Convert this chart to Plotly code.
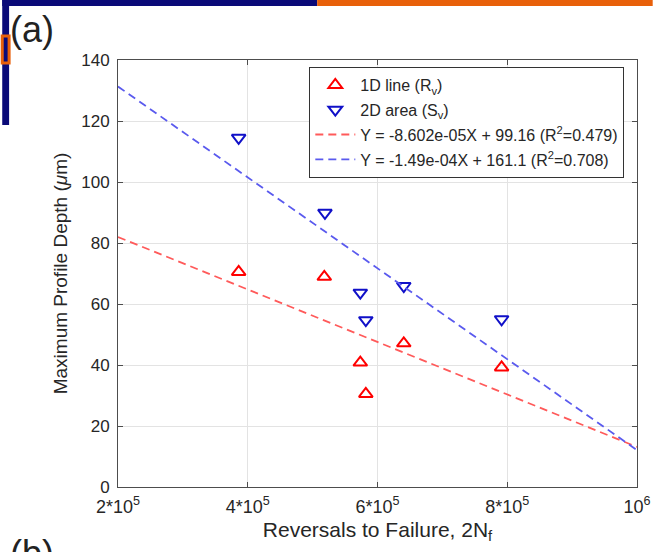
import plotly.graph_objects as go

# ---- data ----
x_1d = [3.86e5, 5.18e5, 5.735e5, 5.82e5, 6.405e5, 7.913e5]
y_1d = [70.5, 68.9, 40.8, 30.5, 47.1, 39.2]

x_2d = [3.86e5, 5.19e5, 5.735e5, 5.82e5, 6.405e5, 7.913e5]
y_2d = [114.5, 89.9, 63.7, 54.7, 65.9, 55.0]

fit_x = [2e5, 1e6]
fit_1d_y = [81.96, 13.14]
fit_2d_y = [131.3, 12.1]

x_ticks = [2e5, 4e5, 6e5, 8e5, 1e6]
x_tick_text = ["2*10<sup>5</sup>", "4*10<sup>5</sup>", "6*10<sup>5</sup>", "8*10<sup>5</sup>", "10<sup>6</sup>"]
y_ticks = [0, 20, 40, 60, 80, 100, 120, 140]

names = ["1D line (R<sub>v</sub>)", "2D area (S<sub>v</sub>)",
         "Y = -8.602e-05X + 99.16 (R<sup>2</sup>=0.479)",
         "Y = -1.49e-04X + 161.1 (R<sup>2</sup>=0.708)"]

# ---- layout geometry (pixels) ----
W, H = 663, 552
L, R, T, B = 118, 647, 60, 487
pw, ph = R - L, B - T

def px(x):
    return (x - L) / pw

def py(y):
    return (B - y) / ph

FONT = "Liberation Sans, Arial, Helvetica, sans-serif"
TXT = "#262626"

fig = go.Figure()
fig.add_trace(go.Scatter(x=x_1d, y=y_1d, mode="markers", name=names[0], legendgroup="a",
                         marker=dict(symbol="triangle-up-open", size=12, color="#ff0000",
                                     line=dict(width=2, color="#ff0000"))))
fig.add_trace(go.Scatter(x=x_2d, y=y_2d, mode="markers", name=names[1], legendgroup="b",
                         marker=dict(symbol="triangle-down-open", size=12, color="#1010c8",
                                     line=dict(width=2, color="#1010c8"))))
fig.add_trace(go.Scatter(x=fit_x, y=fit_1d_y, mode="lines", name=names[2], legendgroup="c",
                         line=dict(color="#ff5a5a", width=1.8, dash="8px,5px")))
fig.add_trace(go.Scatter(x=fit_x, y=fit_2d_y, mode="lines", name=names[3], legendgroup="d",
                         line=dict(color="#5a5aee", width=1.8, dash="8px,5px")))

axis_common = dict(showline=True, linecolor="#4d4d4d", linewidth=1, mirror="allticks",
                   ticks="inside", ticklen=5, tickcolor="#4d4d4d",
                   showgrid=True, gridcolor="#e3e3e3", gridwidth=1, zeroline=False)

fig.update_xaxes(range=[2e5, 1e6], tickvals=x_ticks, ticktext=x_tick_text,
                 tickfont=dict(family=FONT, size=18, color=TXT), ticklabelstandoff=3,
                 title=dict(text="Reversals to Failure, 2N<sub>f</sub>",
                            font=dict(family=FONT, size=21, color=TXT), standoff=6),
                 **axis_common)
fig.update_yaxes(range=[0, 140], tickvals=y_ticks,
                 tickfont=dict(family=FONT, size=17, color=TXT), ticklabelstandoff=4,
                 title=dict(text="Maximum Profile Depth (<i>μ</i>m)",
                            font=dict(family=FONT, size=19, color=TXT), standoff=8),
                 **axis_common)

shapes = [
    dict(type="rect", xref="paper", yref="paper", x0=px(0), x1=px(321), y0=py(6), y1=py(0),
         fillcolor="#0a0a78", line=dict(width=0), layer="above"),
    dict(type="rect", xref="paper", yref="paper", x0=px(321), x1=px(W), y0=py(6), y1=py(0),
         fillcolor="#e8600a", line=dict(width=0), layer="above"),
    dict(type="rect", xref="paper", yref="paper", x0=px(0), x1=px(7), y0=py(125), y1=py(0),
         fillcolor="#0a0a78", line=dict(width=0), layer="above"),
    dict(type="rect", xref="paper", yref="paper", x0=px(0), x1=px(7), y0=py(63), y1=py(36),
         fillcolor="#0a0a78", line=dict(width=3, color="#e8600a"), layer="above"),
]

annotations = [
    dict(text="(a)", xref="paper", yref="paper", x=px(6), y=py(30), xanchor="left",
         yanchor="middle", showarrow=False, font=dict(family=FONT, size=36, color="#222")),
    dict(text="(b)", xref="paper", yref="paper", x=px(6), y=py(553), xanchor="left",
         yanchor="middle", showarrow=False, font=dict(family=FONT, size=36, color="#222")),
]

fig.update_layout(
    width=W, height=H, autosize=False,
    margin=dict(l=L, r=W - R, t=T, b=H - B, pad=0),
    paper_bgcolor="white", plot_bgcolor="white",
    shapes=shapes, annotations=annotations,
    legend=dict(x=px(313), y=py(67), xanchor="left", yanchor="top",
                bgcolor="white", bordercolor="#333", borderwidth=1,
                font=dict(family=FONT, size=16, color=TXT),
                tracegroupgap=1, itemwidth=40),
    showlegend=True,
)

fig.write_html("out.html")
